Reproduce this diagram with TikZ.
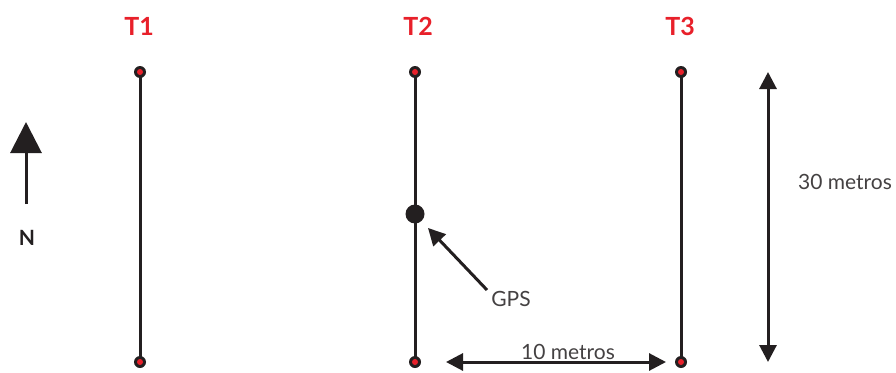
\documentclass[tikz,border=0pt]{standalone}
\usepackage{fontspec}
\setmainfont{Lato}
\usetikzlibrary{arrows.meta,backgrounds}
\definecolor{tred}{HTML}{E8202A}
\definecolor{tblk}{HTML}{231F20}
\begin{document}
\begin{tikzpicture}[x=1pt,y=-1pt,
  tline/.style={tblk,line width=3pt},
  endpt/.style={circle,fill=tblk,minimum size=12pt,inner sep=0pt,path picture={\fill[tred] (path picture bounding box.center) circle (3pt);}},
  gpsdot/.style={circle,fill=tblk,minimum size=19pt,inner sep=0pt},
  ttl/.style={text=tred,font=\fontsize{25}{28}\selectfont\bfseries},
  lbl/.style={text=tblk!85,font=\fontsize{21}{24}\selectfont},
  harrow/.style={tblk,line width=3pt,-{Triangle[width=17pt,length=17pt]}},
  dharrow/.style={tblk,line width=3pt,{Triangle[width=17pt,length=17pt]}-{Triangle[width=17pt,length=17pt]}}
]
\useasboundingbox (0,0) rectangle (896,372);
% transects
\node[endpt] (a1) at (140,72) {};
\node[endpt] (b1) at (140,362) {};
\node[endpt] (a2) at (415,72) {};
\node[endpt] (b2) at (415,362) {};
\node[endpt] (a3) at (681,72) {};
\node[endpt] (b3) at (681,362) {};
\node[gpsdot] (gps) at (415,214) {};
\begin{scope}[on background layer]
\draw[tline] (a1.center) -- (b1.center);
\draw[tline] (a2.center) -- (b2.center);
\draw[tline] (a3.center) -- (b3.center);
\end{scope}
\node[ttl] (t1) at (139,26) {T1};
\node[ttl] (t2) at (418,26) {T2};
\node[ttl] (t3) at (680,26) {T3};
% north arrow
\coordinate (ns) at (26,204);
\coordinate (ne) at (26,122);
\draw[tblk,line width=3pt,-{Triangle[width=31pt,length=31pt]}] (ns) -- (ne);
\node[text=tblk,font=\fontsize{21}{24}\selectfont\bfseries] (n) at (27,238) {N};
% GPS
\node[lbl] (gpsl) at (511,299) {GPS};
\coordinate (gs) at (487,290);
\coordinate (ge) at (428,228);
\draw[harrow] (gs) -- (ge);
% 30 metros
\coordinate (v1) at (768,72);
\coordinate (v2) at (768,362);
\draw[dharrow] (v1) -- (v2);
\node[lbl] (l30) at (845,182) {30 metros};
% 10 metros
\coordinate (h1) at (446,362);
\coordinate (h2) at (666,362);
\draw[dharrow] (h1) -- (h2);
\node[lbl] (l10) at (568,352) {10 metros};
\end{tikzpicture}
\end{document}
